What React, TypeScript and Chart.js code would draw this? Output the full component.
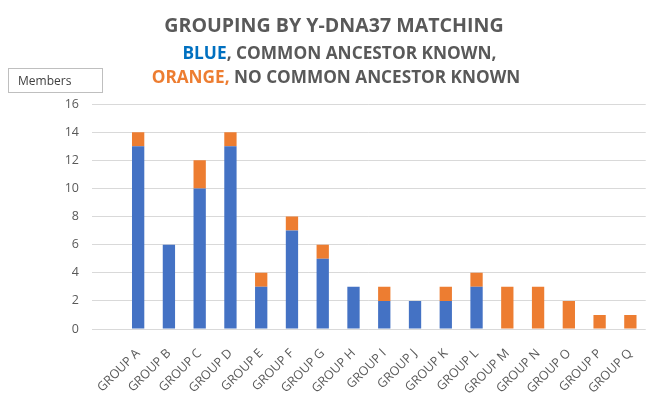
import React, { useEffect, useRef } from 'react';
import { Chart, registerables } from 'chart.js';

Chart.register(...registerables);

// first slot is an empty category, as in the source workbook
const groups = ['', 'GROUP A', 'GROUP B', 'GROUP C', 'GROUP D', 'GROUP E', 'GROUP F', 'GROUP G', 'GROUP H',
  'GROUP I', 'GROUP J', 'GROUP K', 'GROUP L', 'GROUP M', 'GROUP N', 'GROUP O', 'GROUP P', 'GROUP Q'];
const ancestorKnown = [null, 13, 6, 10, 13, 3, 7, 5, 3, 2, 2, 2, 3, 0, 0, 0, 0, 0];
const noAncestorKnown = [null, 1, 0, 2, 1, 1, 1, 1, 0, 1, 0, 1, 1, 3, 3, 2, 1, 1];
const yMin = 0;
const yMax = 16;
const yStep = 2;

const titleText = 'GROUPING BY Y-DNA37 MATCHING';
const axisTitle = 'Members';

const BLUE = '#4472C4';
const ORANGE = '#ED7D31';
const GRAY = '#595959';
const FONT = '"Open Sans", "Noto Sans", sans-serif';

export default function App() {
  const canvasRef = useRef<HTMLCanvasElement>(null);
  const chartRef = useRef<Chart<'bar'> | null>(null);

  useEffect(() => {
    if (!canvasRef.current) return;
    if (chartRef.current) chartRef.current.destroy();

    chartRef.current = new Chart(canvasRef.current, {
      type: 'bar',
      data: {
        labels: groups,
        datasets: [
          { label: 'Known', data: ancestorKnown, backgroundColor: BLUE },
          { label: 'Not known', data: noAncestorKnown, backgroundColor: ORANGE },
        ],
      },
      options: {
        animation: false,
        responsive: false,
        devicePixelRatio: 1,
        layout: { padding: { top: 104, right: 1, bottom: 0, left: 0 } },
        datasets: { bar: { barPercentage: 0.4, categoryPercentage: 1 } },
        plugins: { legend: { display: false }, title: { display: false }, tooltip: { enabled: false } },
        scales: {
          x: {
            stacked: true,
            grid: { display: false },
            border: { display: false },
            ticks: {
              color: GRAY,
              font: { family: FONT, size: 12.5 },
              maxRotation: 45,
              minRotation: 45,
              padding: 9,
              autoSkip: false,
            },
            afterFit: (scale: any) => { scale.height = 89; },
          },
          y: {
            stacked: true,
            min: yMin,
            max: yMax,
            border: { display: false },
            grid: { color: '#d9d9d9', lineWidth: 1, drawTicks: false },
            ticks: {
              stepSize: yStep,
              color: GRAY,
              font: { family: FONT, size: 12.5 },
              padding: 13,
            },
            afterFit: (scale: any) => { scale.width = 92; },
          },
        },
      },
    });

    return () => {
      if (chartRef.current) {
        chartRef.current.destroy();
        chartRef.current = null;
      }
    };
  }, []);

  return (
    <div style={{ position: 'fixed', left: 0, top: 0, width: 650, height: 418, background: '#fff', fontFamily: FONT }}>
      <canvas ref={canvasRef} width={650} height={418} style={{ position: 'absolute', left: 0, top: 0 }} />
      <div style={{ position: 'absolute', left: 0, width: 668, top: 12, textAlign: 'center', color: GRAY,
        fontWeight: 700, fontSize: 19.6, lineHeight: '26px' }}>
        {titleText}
      </div>
      <div style={{ position: 'absolute', left: 0, width: 679, top: 41, textAlign: 'center', color: GRAY,
        fontWeight: 700, fontSize: 17.3, lineHeight: '24px' }}>
        <span style={{ color: '#0070C0' }}>BLUE</span>, COMMON ANCESTOR KNOWN,
      </div>
      <div style={{ position: 'absolute', left: 0, width: 672, top: 65, textAlign: 'center', color: GRAY,
        fontWeight: 700, fontSize: 17.2, lineHeight: '24px' }}>
        <span style={{ color: ORANGE }}>ORANGE,</span> NO COMMON ANCESTOR KNOWN
      </div>
      <div style={{ position: 'absolute', left: 8, top: 68, width: 95, height: 25, boxSizing: 'border-box',
        border: '1px solid #bfbfbf', color: '#404040', fontSize: 12, lineHeight: '23px', paddingLeft: 9 }}>
        {axisTitle}
      </div>
    </div>
  );
}
